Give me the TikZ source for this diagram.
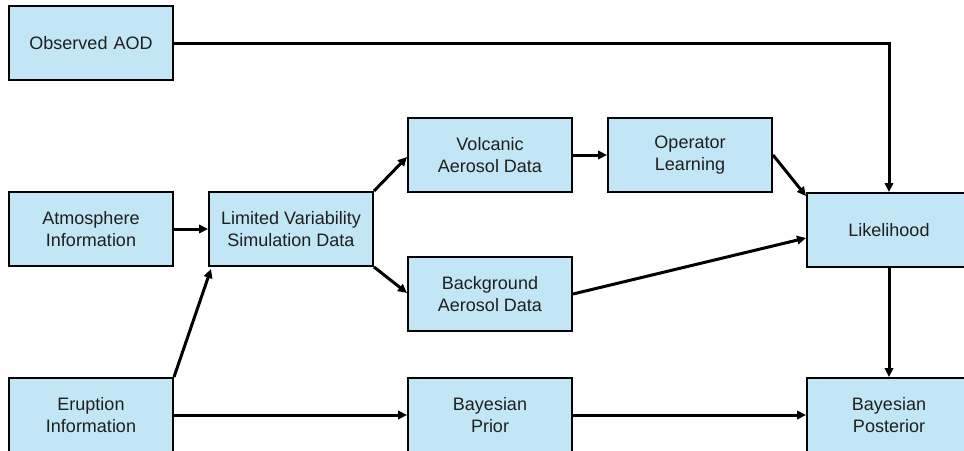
\documentclass[tikz,border=0pt]{standalone}
\usepackage{fontspec}
\setmainfont{Liberation Sans}
\usetikzlibrary{arrows.meta,calc}
\definecolor{boxfill}{RGB}{194,230,246}
\tikzset{
  blk/.style={draw=black, line width=2pt, fill=boxfill, minimum width=164pt, minimum height=74pt,
    inner sep=0pt, align=center, font=\fontsize{18}{21.5}\selectfont, text=black!88},
  conn/.style={line width=3pt, -{Triangle[length=9pt,width=8.5pt]}}
}
\begin{document}
\begin{tikzpicture}[x=1pt,y=-1pt]
\useasboundingbox (0,0) rectangle (964,450);
\node[blk] (obs) at (91,43) {Observed\,\,AOD};
\node[blk] (atm) at (91,229) {Atmosphere\\Information};
\node[blk] (eru) at (91,415) {Eruption\\Information};
\node[blk] (lvs) at (291,229) {Limited Variability\\Simulation Data};
\node[blk] (vol) at (490,155) {Volcanic\\Aerosol Data};
\node[blk] (bkg) at (490,294) {Background\\Aerosol Data};
\node[blk] (opl) at (690,155) {Operator\\Learning};
\node[blk] (lik) at (889,230) {Likelihood};
\node[blk] (pri) at (490,415) {Bayesian\\Prior};
\node[blk] (pos) at (889,415) {Bayesian\\Posterior};
% connectors
\draw[conn] (obs.east) -| (lik.north);
\draw[conn] (atm.east) -- (lvs.west);
\draw[conn] (eru.north east) -- ($(lvs.south west)+(3,2)$);
\draw[conn] (lvs.north east) -- ($(vol.west)+(0,2)$);
\draw[conn] (lvs.south east) -- ($(bkg.west)+(0,-1)$);
\draw[conn] (vol.east) -- (opl.west);
\draw[conn] (opl.east) -- ($(lik.north west)+(0,4)$);
\draw[conn] (bkg.east) -- ($(lik.west)+(0,8)$);
\draw[conn] (lik.south) -- (pos.north);
\draw[conn] (eru.east) -- (pri.west);
\draw[conn] (pri.east) -- (pos.west);
\end{tikzpicture}
\end{document}
